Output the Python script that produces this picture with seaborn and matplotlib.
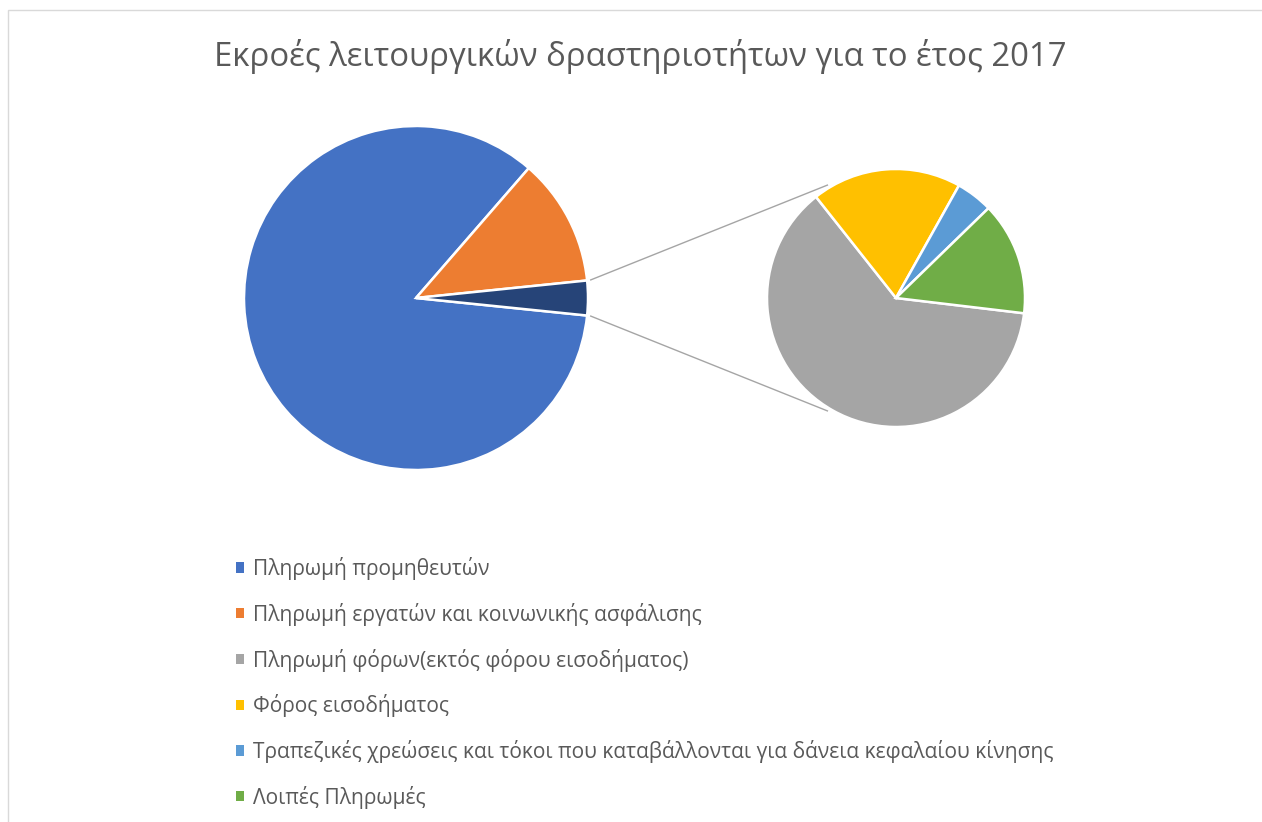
import numpy as np
import matplotlib
matplotlib.use("Agg")
import matplotlib.pyplot as plt
from matplotlib.patches import Patch, Rectangle
import seaborn as sns

sns.set_theme(style="white")
plt.rcParams["font.family"] = ["Open Sans", "DejaVu Sans"]

title = "Εκροές λειτουργικών δραστηριοτήτων για το έτος 2017"

# Main pie categories (the last entry is the "other" group split out on the right)
main_labels = ["Πληρωμή προμηθευτών", "Πληρωμή εργατών και κοινωνικής ασφάλισης"]
main_values = [84.8, 12.0]

# Breakdown of the smaller items shown in the secondary pie
sub_labels = [
    "Πληρωμή φόρων(εκτός φόρου εισοδήματος)",
    "Φόρος εισοδήματος",
    "Τραπεζικές χρεώσεις και τόκοι που καταβάλλονται για δάνεια κεφαλαίου κίνησης",
    "Λοιπές Πληρωμές",
]
sub_values = [2.03, 0.61, 0.15, 0.46]

main_colors = ["#4472C4", "#ED7D31"]
other_color = "#264478"
sub_colors = ["#A5A5A5", "#FFC000", "#5B9BD5", "#70AD47"]

W, H = 1262, 822
fig = plt.figure(figsize=(W / 100, H / 100), dpi=100)
ax = fig.add_axes([0, 0, 1, 1])

# geometry in pixel units (y measured upwards)
c1 = (416, H - 298)
r1 = 172
c2 = (896, H - 298)
r2 = 129

other_total = sum(sub_values)
vals1 = main_values + [other_total]
other_half = other_total / sum(vals1) * 360 / 2

wedge_kw = dict(edgecolor="white", linewidth=1.8)
w1, _ = ax.pie(vals1, colors=main_colors + [other_color], center=c1, radius=r1,
               startangle=-other_half, counterclock=False, wedgeprops=wedge_kw)
w2, _ = ax.pie(sub_values, colors=sub_colors, center=c2, radius=r2,
               startangle=-6.8, counterclock=False, wedgeprops=wedge_kw)

# connector lines between the grouped slice and the secondary pie
for sgn in (1, -1):
    a1 = np.deg2rad(sgn * other_half)
    a2 = np.deg2rad(sgn * 121)
    p1 = (c1[0] + (r1 + 3) * np.cos(a1), c1[1] + (r1 + 3) * np.sin(a1))
    p2 = (c2[0] + (r2 + 3) * np.cos(a2), c2[1] + (r2 + 3) * np.sin(a2))
    ax.plot([p1[0], p2[0]], [p1[1], p2[1]], color="#A5A5A5", lw=1.0,
            solid_capstyle="butt", zorder=0)

# chart area border
ax.add_patch(Rectangle((8, -20), W, H - 10 + 20, fill=False,
                       edgecolor="#D9D9D9", lw=1.0))

ax.text(640, H - 56, title, ha="center", va="center", fontsize=23.7,
        color="#595959")

handles = [Patch(facecolor=c, edgecolor="none") for c in main_colors + sub_colors]
leg = ax.legend(handles, main_labels + sub_labels, loc="upper left",
                bbox_to_anchor=(236 / W, 1 - 557 / H), frameon=False,
                fontsize=15.1, labelcolor="#595959", handlelength=0.38,
                handleheight=0.38, handletextpad=0.43, labelspacing=1.085,
                borderaxespad=0, borderpad=0)

ax.set_xlim(0, W)
ax.set_ylim(0, H)
ax.set_aspect("auto")
ax.axis("off")

fig.savefig("out.png", dpi=100, facecolor="white")
